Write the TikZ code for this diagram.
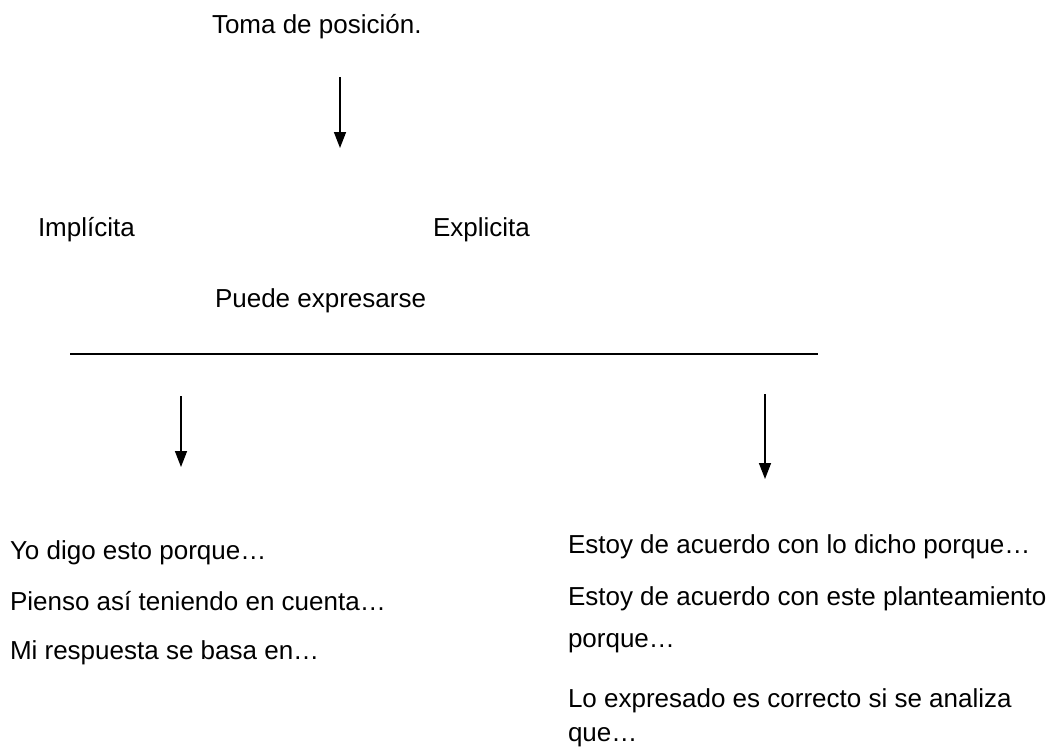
\documentclass[tikz,border=0pt]{standalone}
\usepackage{fontspec}
\setmainfont{Liberation Sans}
\usetikzlibrary{arrows.meta}
\begin{document}
\begin{tikzpicture}[x=1pt,y=-1pt,
  lbl/.style={anchor=base west,inner sep=0pt,outer sep=0pt,align=left,
    font=\fontsize{26}{42}\selectfont},
  arr/.style={line width=1.5pt,-{Triangle[length=16pt,width=12pt]}},
  rule/.style={line width=2pt}]
\useasboundingbox (0,0) rectangle (1062,747);
\node[lbl] (toma) at (212,33) {Toma de posición.};
\node[lbl] (impl) at (38,236) {Implícita};
\node[lbl] (expl) at (433,236) {Explicita};
\node[lbl] (puede) at (215,307) {Puede expresarse};
\coordinate (a1s) at (340,77);
\coordinate (a1e) at (340,148);
\coordinate (ls) at (70,354);
\coordinate (le) at (818,354);
\coordinate (a2s) at (181,396);
\coordinate (a2e) at (181,467);
\coordinate (a3s) at (765,394);
\coordinate (a3e) at (765,479);
\draw[arr] (a1s) -- (a1e);
\draw[rule] (ls) -- (le);
\draw[arr] (a2s) -- (a2e);
\draw[arr] (a3s) -- (a3e);
\node[lbl] (yo) at (10,559) {Yo digo esto porque…};
\node[lbl] (pienso) at (10,610) {Pienso así teniendo en cuenta…};
\node[lbl] (mi) at (10,659) {Mi respuesta se basa en…};
\node[lbl] (est1) at (568,553) {Estoy de acuerdo con lo dicho porque…};
\node[lbl] (est2) at (568,647) {Estoy de acuerdo con este planteamiento\\porque…};
\node[lbl,font=\fontsize{26}{34}\selectfont] (lo) at (568,741) {Lo expresado es correcto si se analiza\\que…};
\end{tikzpicture}
\end{document}
